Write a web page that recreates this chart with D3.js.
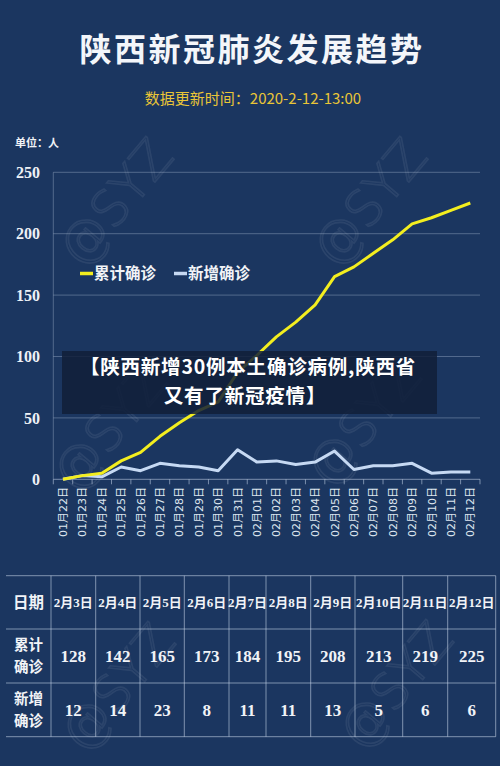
<!DOCTYPE html>
<html><head><meta charset="utf-8">
<script src="https://cdn.jsdelivr.net/npm/d3@7"></script>
<style>
html,body{margin:0;padding:0;background:#1b3660;}
svg{display:block;}
</style></head>
<body>
<svg id="c" width="500" height="766"></svg>
<script>
const dates = ["01月22日","01月23日","01月24日","01月25日","01月26日","01月27日","01月28日","01月29日","01月30日","01月31日","02月01日","02月02日","02月03日","02月04日","02月05日","02月06日","02月07日","02月08日","02月09日","02月10日","02月11日","02月12日"];
const cumulative = [0,3,5,15,22,35,46,56,63,87,101,116,128,142,165,173,184,195,208,213,219,225];
const daily = [0,3,2,10,7,13,11,10,7,24,14,15,12,14,23,8,11,11,13,5,6,6];
const yTicks = [0,50,100,150,200,250];
const seriesNames = ["累计确诊","新增确诊"];
const tableDates = ["2月3日","2月4日","2月5日","2月6日","2月7日","2月8日","2月9日","2月10日","2月11日","2月12日"];
const tableCum = [128,142,165,173,184,195,208,213,219,225];
const tableNew = [12,14,23,8,11,11,13,5,6,6];
const rowLabels = [["日期"],["累计","确诊"],["新增","确诊"]];

const svg = d3.select("#c");
const CJK = "'Noto Sans CJK SC','Noto Sans',sans-serif";
const SERIF = "'Liberation Serif','DejaVu Serif',serif";
const colors = ["#f3ee1f","#c6d9f3"];

svg.append("rect").attr("width",500).attr("height",766).attr("fill","#1b3660");

// watermarks
const wm = [[118,205],[372,205],[112,430],[366,425],[120,690],[398,688]];
svg.append("g").selectAll("text").data(wm).join("text")
  .attr("transform",d=>`translate(${d[0]},${d[1]}) rotate(-50)`)
  .attr("text-anchor","middle").attr("dominant-baseline","middle")
  .attr("font-family","'DejaVu Sans',sans-serif").attr("font-weight",200)
  .attr("font-size",50).attr("fill","none")
  .attr("stroke","rgba(255,255,255,0.075)").attr("stroke-width",1.6)
  .text("@SYZ");

// title
svg.append("text").attr("x",252).attr("y",61).attr("text-anchor","middle")
  .attr("font-family",CJK).attr("font-weight",700).attr("font-size",32)
  .attr("letter-spacing",2.5).attr("fill","#f4f6fa").text("陕西新冠肺炎发展趋势");
svg.append("text").attr("x",253).attr("y",104).attr("text-anchor","middle")
  .attr("font-family",CJK).attr("font-size",15).attr("fill","#e9c537")
  .text("数据更新时间：2020-2-12-13:00");
svg.append("text").attr("x",15).attr("y",147)
  .attr("font-family",CJK).attr("font-weight",700).attr("font-size",11).attr("fill","#f1f3f7")
  .text("单位：人");

// scales
const x = d3.scaleBand().domain(dates).range([53.3,480]).padding(0);
const xc = d => x(d) + x.bandwidth()/2;
const y = d3.scaleLinear().domain([0,250]).range([479.3,172.3]);

// grid
svg.append("g").selectAll("line").data(yTicks).join("line")
  .attr("x1",53.3).attr("x2",480).attr("y1",d=>y(d)).attr("y2",d=>y(d))
  .attr("stroke",d=>d===0?"rgba(200,215,235,0.55)":"rgba(200,215,235,0.32)").attr("stroke-width",1);
svg.append("line").attr("x1",53.3).attr("x2",53.3).attr("y1",y(250)).attr("y2",y(0))
  .attr("stroke","rgba(200,215,235,0.32)");

// y axis labels
svg.append("g").selectAll("text").data(yTicks).join("text")
  .attr("x",40).attr("y",d=>y(d)).attr("dy","0.35em").attr("text-anchor","end")
  .attr("font-family",SERIF).attr("font-weight",700).attr("font-size",16).attr("fill","#eef1f6")
  .text(d=>d);

// x ticks at band boundaries
const bounds = dates.map(d=>x(d)).concat([480]);
svg.append("g").selectAll("line").data(bounds).join("line")
  .attr("x1",d=>d).attr("x2",d=>d).attr("y1",y(0)).attr("y2",y(0)+5)
  .attr("stroke","rgba(200,215,235,0.55)");

// x labels
svg.append("g").selectAll("text").data(dates).join("text")
  .attr("transform",d=>`translate(${xc(d)+4},487) rotate(-90)`)
  .attr("text-anchor","end")
  .attr("font-family","'DejaVu Sans',"+CJK).attr("font-size",11).attr("fill","#dfe6ef")
  .text(d=>d);

// lines
const line = d3.line().x((d,i)=>xc(dates[i])).y(d=>y(d));
svg.append("path").datum(daily).attr("d",line).attr("fill","none")
  .attr("stroke",colors[1]).attr("stroke-width",3).attr("stroke-linejoin","round");
svg.append("path").datum(cumulative).attr("d",line).attr("fill","none")
  .attr("stroke",colors[0]).attr("stroke-width",3).attr("stroke-linejoin","round");

// legend
const lg = svg.append("g");
const legX = [80,174];
seriesNames.forEach((n,i)=>{
  lg.append("line").attr("x1",legX[i]).attr("x2",legX[i]+13).attr("y1",273.5).attr("y2",273.5)
    .attr("stroke",colors[i]).attr("stroke-width",3.5);
  lg.append("text").attr("x",legX[i]+14).attr("y",273).attr("dy","0.36em")
    .attr("font-family",CJK).attr("font-weight",700).attr("font-size",15.5).attr("fill","#f1f3f7")
    .text(n);
});

// overlay
svg.append("rect").attr("x",62).attr("y",351).attr("width",375).attr("height",63)
  .attr("fill","#111f38").attr("opacity",0.85);
const ov = ["【陕西新增30例本土确诊病例,陕西省","又有了新冠疫情】"];
svg.append("g").selectAll("text").data(ov).join("text").attr("text-anchor","middle")
  .attr("font-family",CJK).attr("font-weight",700).attr("font-size",19.5).attr("fill","#ffffff")
  .attr("letter-spacing",0.8)
  .attr("x",(d,i)=>i===0?248:245).attr("y",(d,i)=>374+i*28.5).text(d=>d);

// table
const colEdges = [6,51,95.7,140,184.3,229,266,310.7,355,402.7,447.7,495.7];
const rowEdges = [575.7,629,683,736.7];
const tg = svg.append("g");
tg.selectAll("line.h").data(rowEdges).join("line").attr("class","h")
  .attr("x1",6).attr("x2",495.7).attr("y1",d=>d).attr("y2",d=>d)
  .attr("stroke","rgba(210,222,240,0.55)").attr("stroke-width",1);
tg.selectAll("line.v").data(colEdges.slice(1)).join("line").attr("class","v")
  .attr("x1",d=>d).attr("x2",d=>d).attr("y1",rowEdges[0]).attr("y2",rowEdges[3])
  .attr("stroke","rgba(210,222,240,0.55)").attr("stroke-width",1);
const cx = i => (colEdges[i]+colEdges[i+1])/2;
const cy = r => (rowEdges[r]+rowEdges[r+1])/2;
rowLabels.forEach((lab,r)=>{
  lab.forEach((s,k)=>{
    tg.append("text").attr("text-anchor","middle").attr("font-family",CJK)
      .attr("font-weight",700).attr("font-size",lab.length>1?14.5:15.5).attr("fill","#f1f3f7")
      .attr("x",cx(0)).attr("y",cy(r)+(k-(lab.length-1)/2)*21.5).attr("dy","0.36em").text(s);
  });
});
tg.selectAll("text.d").data(tableDates).join("text").attr("class","d")
  .attr("x",(d,i)=>cx(i+1)).attr("y",cy(0)).attr("dy","0.36em").attr("text-anchor","middle")
  .attr("font-family",SERIF+","+CJK).attr("font-weight",700).attr("font-size",13)
  .attr("fill","#f1f3f7").text(d=>d);
[tableCum,tableNew].forEach((arr,r)=>{
  tg.selectAll("text.v"+r).data(arr).join("text").attr("class","v"+r)
    .attr("x",(d,i)=>cx(i+1)).attr("y",cy(r+1)).attr("dy","0.35em").attr("text-anchor","middle")
    .attr("font-family",SERIF).attr("font-weight",700).attr("font-size",17)
    .attr("fill","#f1f3f7").text(d=>d);
});
</script>
</body></html>
